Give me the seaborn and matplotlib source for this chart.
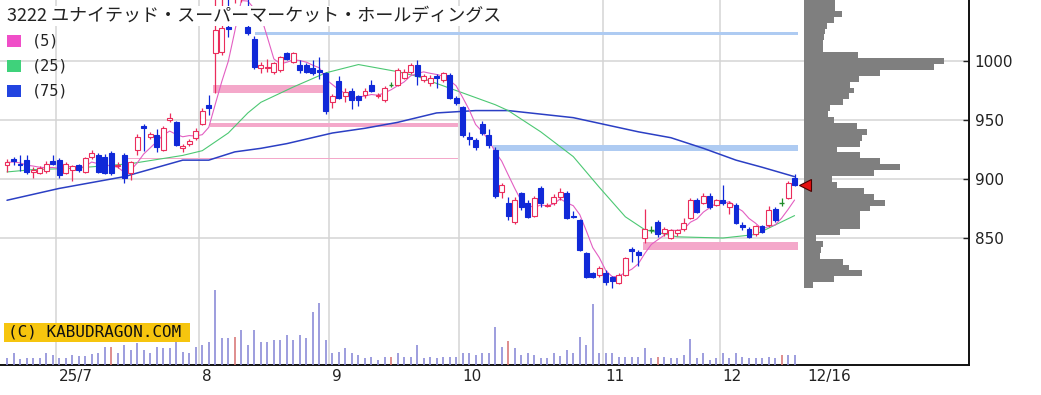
import matplotlib
matplotlib.use("Agg")
import matplotlib.pyplot as plt
import matplotlib.transforms as mtransforms
from matplotlib.patches import Rectangle
import pandas as pd
import seaborn as sns

sns.set_theme(style="white")
plt.rcParams["font.family"] = ["DejaVu Sans"]

# ---------------------------
# data
# ---------------------------
title = "3222 ユナイテッド・スーパーマーケット・ホールディングス"

opens = [912, 917, 913, 916, 906, 905, 907, 915, 916, 905, 908, 912, 906, 919, 920, 919, 922, 911, 920, 905,
         925, 945, 936, 937, 925, 950, 948, 926, 930, 935, 947, 963, 1007, 1008, 1029, 1060, 1080, 1029, 1019, 994,
         994, 991, 992, 1007, 999, 997, 997, 994, 992, 990, 965, 983, 970, 975, 970, 971, 980, 970, 967, 980,
         980, 986, 991, 997, 984, 981, 987, 984, 988, 969, 961, 936, 933, 947, 937, 925, 889, 880, 864, 888,
         880, 869, 892, 877, 880, 885, 888, 869, 865, 837, 820, 819, 820, 817, 812, 819, 841, 838, 850, 857,
         864, 854, 850, 854, 858, 867, 882, 880, 886, 878, 882, 876, 878, 861, 858, 853, 860, 861, 875, 880,
         884, 901]
highs = [917, 919, 920, 920, 910, 911, 915, 920, 918, 914, 912, 913, 919, 925, 922, 921, 924, 914, 922, 915,
         938, 947, 940, 942, 945, 956, 949, 930, 934, 943, 960, 971, 1070, 1068, 1060, 1090, 1095, 1060, 1021, 999,
         1002, 999, 1004, 1008, 1008, 1001, 998, 1001, 1003, 991, 972, 987, 977, 977, 971, 977, 984, 973, 979, 982,
         994, 993, 998, 1001, 989, 988, 989, 991, 990, 970, 962, 940, 935, 949, 942, 927, 897, 885, 885, 889,
         882, 886, 894, 880, 887, 892, 890, 873, 866, 838, 821, 826, 823, 818, 820, 834, 842, 840, 875, 860,
         865, 859, 858, 858, 867, 884, 884, 888, 888, 883, 895, 881, 880, 864, 859, 861, 861, 877, 876, 884,
         898, 904]
lows = [906, 912, 907, 904, 901, 904, 905, 912, 901, 904, 898, 906, 905, 917, 905, 904, 903, 909, 897, 899,
        920, 924, 934, 923, 924, 948, 928, 923, 928, 933, 946, 954, 973, 1005, 1020, 1049, 1050, 1022, 993, 990,
        991, 989, 991, 1001, 998, 990, 990, 988, 985, 955, 960, 968, 965, 959, 962, 969, 974, 969, 965, 978,
        979, 985, 989, 980, 982, 979, 977, 982, 968, 963, 936, 929, 925, 937, 926, 884, 884, 865, 862, 874,
        867, 868, 876, 876, 878, 882, 866, 867, 839, 816, 816, 817, 810, 808, 811, 818, 830, 826, 846, 854,
        851, 852, 849, 852, 856, 866, 871, 879, 875, 877, 878, 870, 862, 857, 850, 852, 854, 859, 864, 877,
        883, 894]
closes = [914, 915, 912, 906, 908, 909, 913, 913, 903, 913, 911, 908, 918, 922, 906, 905, 905, 912, 901, 914,
          936, 943, 938, 927, 943, 952, 929, 928, 932, 941, 958, 960, 1026, 1028, 1027, 1085, 1090, 1024, 995, 997,
          995, 998, 1003, 1002, 1007, 992, 991, 990, 991, 958, 970, 969, 974, 967, 967, 975, 975, 971, 977, 980,
          992, 991, 997, 987, 987, 986, 986, 990, 969, 964, 937, 934, 927, 939, 929, 886, 895, 869, 882, 876,
          868, 884, 880, 878, 885, 889, 867, 868, 840, 817, 817, 825, 813, 814, 819, 833, 839, 836, 858, 857,
          853, 858, 857, 857, 863, 882, 872, 886, 876, 882, 880, 880, 863, 859, 851, 860, 855, 874, 865, 880,
          897, 895]

volumes = [6.7, 11.7, 5.7, 6.7, 6.7, 6.7, 11.7, 10, 6.7, 6.7,
           10, 9, 9, 11, 11.7, 18.3, 18.3, 11.7, 20, 15,
           21.7, 15, 11.7, 18.3, 16.7, 16.7, 23.3, 13.3, 11.7, 18.3,
           20, 23.3, 75, 26.7, 26.7, 28.3, 35, 20, 35, 23.3,
           23.3, 25, 25, 30, 25, 30, 26.7, 52.7, 62.3, 25,
           11.7, 13.3, 16.7, 11.7, 10, 6.7, 8.3, 5, 8.3, 8.3,
           11.7, 8.3, 8.3, 20, 6.7, 8.3, 6.7, 8.3, 8.3, 8.3,
           11.7, 11.7, 10, 11.7, 11.7, 37.7, 18.3, 24.3, 16.7, 10,
           11.7, 10, 6.7, 6.7, 11.7, 9, 15, 11.7, 28, 20,
           61, 11.7, 11.7, 11.7, 8.3, 8.3, 8.3, 8.3, 16.7, 6.7,
           8.3, 8.3, 6.7, 6.7, 10, 26, 6.7, 11.7, 5, 6.7,
           11.7, 6.7, 11.7, 8.3, 6.7, 6.7, 6.7, 8.3, 6.7, 10,
           10, 10]
red_volume_days = [16, 35, 59, 77, 100, 119]

# moving averages (25 and 75 day) read at sample days
ma25_days = [0, 4, 10, 19, 27, 30, 34, 37, 39, 44, 49, 54, 60, 63, 69, 75, 77, 82, 87, 91, 95, 98, 103, 110, 115, 118, 121]
ma25_vals = [906, 908, 909, 913, 920, 924, 939, 956, 965, 978, 990, 997, 991, 987, 975, 963, 958, 940, 919, 893, 868,
             857, 851, 850, 853, 861, 869]
ma75_days = [0, 8, 18, 27, 31, 35, 39, 43, 50, 55, 60, 66, 72, 77, 82, 87, 92, 97, 102, 107, 112, 116, 121]
ma75_vals = [882, 892, 902, 916, 916, 923, 926, 930, 939, 943, 948, 956, 958, 958, 955, 952, 946, 940, 935, 926, 916,
             910, 902]

# support / resistance bands: start day, end day, low, high
band_start = [38.1, 74.7, 31.6, 31.2, 18.6, 97.7]
band_end = [121.6, 121.6, 48.6, 69.3, 69.3, 121.6]
band_low = [1022, 923.7, 972.9, 944.1, 917.0, 839.8]
band_high = [1024.6, 928.8, 979.7, 947.5, 918.2, 846.6]
band_kind = ["blue", "blue", "pink", "pink", "pink", "pink"]

# price-by-volume profile
profile_prices = [810, 815, 820, 825, 830, 835, 840, 845, 850, 855, 860, 865, 870, 875, 880, 885, 890, 895, 900,
                  905, 910, 915, 920, 925, 930, 935, 940, 945, 950, 955, 960, 965, 970, 975, 980, 985, 990, 995,
                  1000, 1005, 1010, 1015, 1020, 1025, 1030, 1035, 1040, 1045, 1050]
profile_vals = [9, 30, 58, 45, 39, 16, 17, 19, 12, 36, 56, 56, 56, 66, 81, 70, 60, 33, 28,
                70, 96, 76, 56, 33, 56, 58, 63, 53, 30, 24, 26, 39, 45, 50, 46, 55, 76, 130,
                140, 54, 19, 19, 20, 21, 23, 30, 38, 31, 31]

month_first_day = [8, 30, 50, 70, 92, 110]
month_labels = ["25/7", "8", "9", "10", "11", "12"]
last_label = "12/16"
price_ticks = [850, 900, 950, 1000]

legend_labels = ["(5)", "(25)", "(75)"]

RED = "#eb2d5c"
BLUE = "#1029d8"
GREEN = "#1f8c2a"
MA5_C = "#e35fc2"
MA25_C = "#4cc873"
MA75_C = "#2b3fc4"
BAND_C = {"blue": "#aecbf2", "pink": "#f4a8ca"}
GRID_C = "#d4d4d4"

df = pd.DataFrame({"open": opens, "high": highs, "low": lows, "close": closes, "volume": volumes})
df["day"] = range(len(df))
df["ma5"] = df["close"].rolling(5, min_periods=1).mean()
n = len(df)

# ---------------------------
# figure / axes
# ---------------------------
W, H = 1041, 395
fig = plt.figure(figsize=(W / 100, H / 100), dpi=100)
fig.patch.set_facecolor("white")
rect = [0, 30 / H, 969 / W, 365 / H]
ax = fig.add_axes(rect)
ax.set_xlim(-1.075, 147.8)
ax.set_ylim(742.4, 1051.7)

# grid
for p in price_ticks:
    ax.axhline(p, color=GRID_C, lw=1.1, zorder=0)
for d in month_first_day:
    ax.axvline(d - 0.5, color=GRID_C, lw=1.1, zorder=0)

# bands
for x0, x1, lo, hi, k in zip(band_start, band_end, band_low, band_high, band_kind):
    ax.fill_between([x0, x1], lo, hi, color=BAND_C[k], lw=0, zorder=1)

# moving averages
sns.lineplot(x=ma75_days, y=ma75_vals, ax=ax, color=MA75_C, linewidth=1.1, zorder=3)
sns.lineplot(x=ma25_days, y=ma25_vals, ax=ax, color=MA25_C, linewidth=0.8, zorder=3)
sns.lineplot(data=df, x="day", y="ma5", ax=ax, color=MA5_C, linewidth=0.8, zorder=3)

# candles
bw = 0.76
for i, r in df.iterrows():
    o, h, l, c = r["open"], r["high"], r["low"], r["close"]
    col = RED if c > o else (BLUE if c < o else GREEN)
    ax.vlines(i, l, h, color=col, lw=0.9, zorder=5)
    if c == o:
        ax.hlines(c, i - bw / 2, i + bw / 2, color=col, lw=1.0, zorder=6)
    else:
        face = "white" if c > o else col
        ax.add_patch(Rectangle((i - bw / 2, min(o, c)), bw, abs(c - o), facecolor=face,
                               edgecolor=col, lw=0.8, zorder=6))

# axis styling
for s in ["top", "left"]:
    ax.spines[s].set_visible(False)
for s in ["right", "bottom"]:
    ax.spines[s].set_color("#111111")
    ax.spines[s].set_linewidth(1.4)
ax.yaxis.tick_right()
ax.set_yticks(price_ticks)
ax.set_yticklabels([str(p) for p in price_ticks])
ax.tick_params(axis="y", direction="in", length=4, width=1, pad=4, labelsize=11,
               colors="#222222")
ax.set_xticks([d - 0.5 for d in month_first_day] + [n + 0.5])
ax.set_xticklabels(month_labels + [last_label])
ax.tick_params(axis="x", length=0, pad=3, labelsize=11, colors="#222222")
shift = mtransforms.ScaledTranslation(3 / 100, 0, fig.dpi_scale_trans)
for lbl in ax.get_xticklabels():
    lbl.set_horizontalalignment("left")
    lbl.set_transform(lbl.get_transform() + shift)
ax.set_xlabel("")
ax.set_ylabel("")

# volume overlay
vax = fig.add_axes(rect, sharex=ax)
vax.patch.set_visible(False)
vcols = ["#d97a7a" if d in red_volume_days else "#8c8cd8" for d in df["day"]]
vax.vlines(df["day"], 0, df["volume"], colors=vcols, lw=1.2)
vax.set_ylim(0, 365)
vax.axis("off")

# price-by-volume profile
pax = fig.add_axes([804 / W, 30 / H, 165 / W, 365 / H], sharey=ax)
pax.patch.set_visible(False)
pax.barh(profile_prices, profile_vals, height=5, color="#7f7f7f", lw=0)
pax.set_xlim(0, 165)
pax.axis("off")
pax.plot(0.6, closes[-1], marker="<", ms=8, mfc="#e41010", mec="#4a0000", mew=0.8,
         clip_on=False, zorder=10)

# title, legend, watermark
fig.text(7 / W, 1 - 16 / H, title, family=["Noto Sans CJK JP", "DejaVu Sans"], fontsize=13,
         color="#222222", ha="left", va="center",
         bbox=dict(boxstyle="square,pad=0.05", fc="white", ec="none"))
for k, (lab, col) in enumerate(zip(legend_labels, ["#f04ec8", "#3fd27b", "#2244e0"])):
    y = 35 + k * 25
    fig.patches.append(Rectangle((7 / W, 1 - (y + 12) / H), 14 / W, 12 / H, transform=fig.transFigure,
                                 fc=col, ec="none"))
    fig.text(32 / W, 1 - (y + 6) / H, lab, family="DejaVu Sans Mono", fontsize=11, color="#222222",
             ha="left", va="center")
fig.patches.append(Rectangle((4 / W, 1 - 342 / H), 186 / W, 19 / H, transform=fig.transFigure,
                             fc="#f6c50e", ec="none", zorder=20))
fig.text(8 / W, 1 - 332 / H, "(C) KABUDRAGON.COM", family="DejaVu Sans Mono", fontsize=11.5,
         color="#111111", ha="left", va="center", zorder=21)

fig.savefig("out.png", dpi=100)
